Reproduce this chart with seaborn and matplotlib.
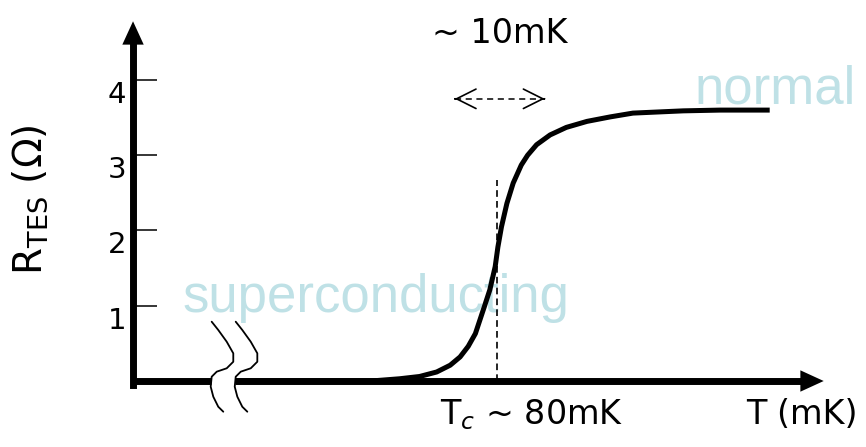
import matplotlib
matplotlib.use("Agg")
import matplotlib.pyplot as plt
import matplotlib.transforms as mtransforms
import seaborn as sns
import pandas as pd

# ---- data ----
T_mK = [51.4, 60.0, 66.0, 69.2, 71.4, 73.3, 74.8, 75.9, 76.8, 77.6, 78.1, 78.6,
        79.2, 79.8, 80.1, 80.5, 81.1, 81.8, 82.7, 83.4, 84.4, 85.9, 87.7, 90.0,
        92.6, 95.1, 100.7, 104.8, 110.3]
R_ohm = [0.0, 0.0, 0.0, 0.03, 0.06, 0.12, 0.21, 0.32, 0.46, 0.63, 0.81, 0.99,
         1.21, 1.52, 1.78, 2.05, 2.36, 2.63, 2.87, 3.00, 3.14, 3.27, 3.37, 3.45,
         3.51, 3.56, 3.59, 3.60, 3.60]
y_ticks = [1, 2, 3, 4]
Tc = 80.0
Tc_line_top = 2.67
width_arrow = [75.3, 85.3]
width_arrow_R = 3.75

# axis break shape (T, R) for the two wavy marks
brk_T = [48.30, 49.03, 49.97, 50.70, 50.70, 49.97, 48.86, 48.30, 48.19, 48.48, 49.03, 49.59]
brk_R = [0.788, 0.678, 0.522, 0.368, 0.256, 0.169, 0.124, 0.057, -0.076, -0.209, -0.342, -0.408]
brk_dT = 2.67

sns.set_theme(style="white")
plt.rcParams['font.family'] = ['DejaVu Sans']
plt.rcParams['mathtext.fontset'] = 'dejavusans'

fig = plt.figure(figsize=(8.66, 4.47), dpi=100)
ax = fig.add_axes([0, 0, 1, 1])
ax.set_xlim(24.78, 121.0)
ax.set_ylim(-0.877, 5.063)

x0 = 39.56  # y-axis position

df = pd.DataFrame({"T": T_mK, "R": R_ohm})
sns.lineplot(data=df, x="T", y="R", ax=ax, color="black", lw=3.6,
             estimator=None, sort=False, zorder=5, solid_capstyle="butt",
             solid_joinstyle="round")

# spines
for s in ["top", "right", "bottom"]:
    ax.spines[s].set_visible(False)
ax.spines["left"].set_position(("data", x0))
ax.spines["left"].set_bounds(-0.05, 4.5)
ax.spines["left"].set_linewidth(5)
ax.spines["left"].set_color("black")

ax.set_xticks([])
ax.set_yticks(y_ticks)
ax.set_yticklabels([str(v) for v in y_ticks])
ax.tick_params(axis="y", direction="in", length=17, width=1.1, labelsize=21,
               pad=5, colors="black", left=True)
off = mtransforms.ScaledTranslation(0, -0.12, fig.dpi_scale_trans)
for lab in ax.get_yticklabels():
    lab.set_transform(lab.get_transform() + off)
ax.set_xlabel("")
ax.set_ylabel("")

# y-axis arrowhead
ax.annotate("", xy=(x0, 4.78), xytext=(x0, 4.3),
            arrowprops=dict(arrowstyle="-|>,head_length=1.2,head_width=0.55",
                            mutation_scale=14, lw=0, color="black",
                            shrinkA=0, shrinkB=0))
# x-axis (broken)
ax.plot([x0 - 0.25, 48.2], [0, 0], color="black", lw=5, solid_capstyle="butt", zorder=4)
ax.plot([50.9, 113.8], [0, 0], color="black", lw=5, solid_capstyle="butt", zorder=4)
ax.annotate("", xy=(116.3, 0), xytext=(112.0, 0),
            arrowprops=dict(arrowstyle="-|>,head_length=1.2,head_width=0.55",
                            mutation_scale=14, lw=0, color="black",
                            shrinkA=0, shrinkB=0), zorder=6)
# break marks
for k in range(2):
    ax.plot([t + k * brk_dT for t in brk_T], brk_R, color="black", lw=1.3,
            zorder=6, solid_joinstyle="round")

# Tc dashed line
ax.plot([Tc, Tc], [0, Tc_line_top], color="black", lw=1.2, dashes=(4, 2.5), zorder=4)
# ~10mK dashed arrow: dashed shaft + solid open heads
ax.plot(width_arrow, [width_arrow_R, width_arrow_R], color="black", lw=1.1,
        dashes=(4, 3))
head = dict(arrowstyle="->,head_length=0.7,head_width=0.35", mutation_scale=20,
            lw=1.2, color="black", shrinkA=0, shrinkB=0)
ax.annotate("", xy=(width_arrow[0], width_arrow_R),
            xytext=(width_arrow[0] + 0.05, width_arrow_R), arrowprops=head)
ax.annotate("", xy=(width_arrow[1], width_arrow_R),
            xytext=(width_arrow[1] - 0.05, width_arrow_R), arrowprops=head)

# texts
ax.text(80.33, 4.62, "~ 10mK", ha="center", va="center", fontsize=24, color="black")
ax.text(73.7, -0.45, "T$_c$ ~ 80mK", ha="left", va="center", fontsize=24, color="black")
ax.text(120.1, -0.45, "T (mK)", ha="right", va="center", fontsize=24, color="black")
ax.text(45.1, 0.917, "superconducting", ha="left", va="baseline", fontsize=38,
        color="#bfe1e6", family="Liberation Sans", zorder=1)
ax.text(119.9, 3.69, "normal", ha="right", va="baseline", fontsize=38,
        color="#bfe1e6", family="Liberation Sans", zorder=1)
fig.text(30 / 866, 1 - 200 / 447, r"R$_{\mathrm{TES}}$ ($\Omega$)", rotation=90,
         ha="center", va="center", fontsize=28, color="black")

fig.savefig("out.png", dpi=100)
